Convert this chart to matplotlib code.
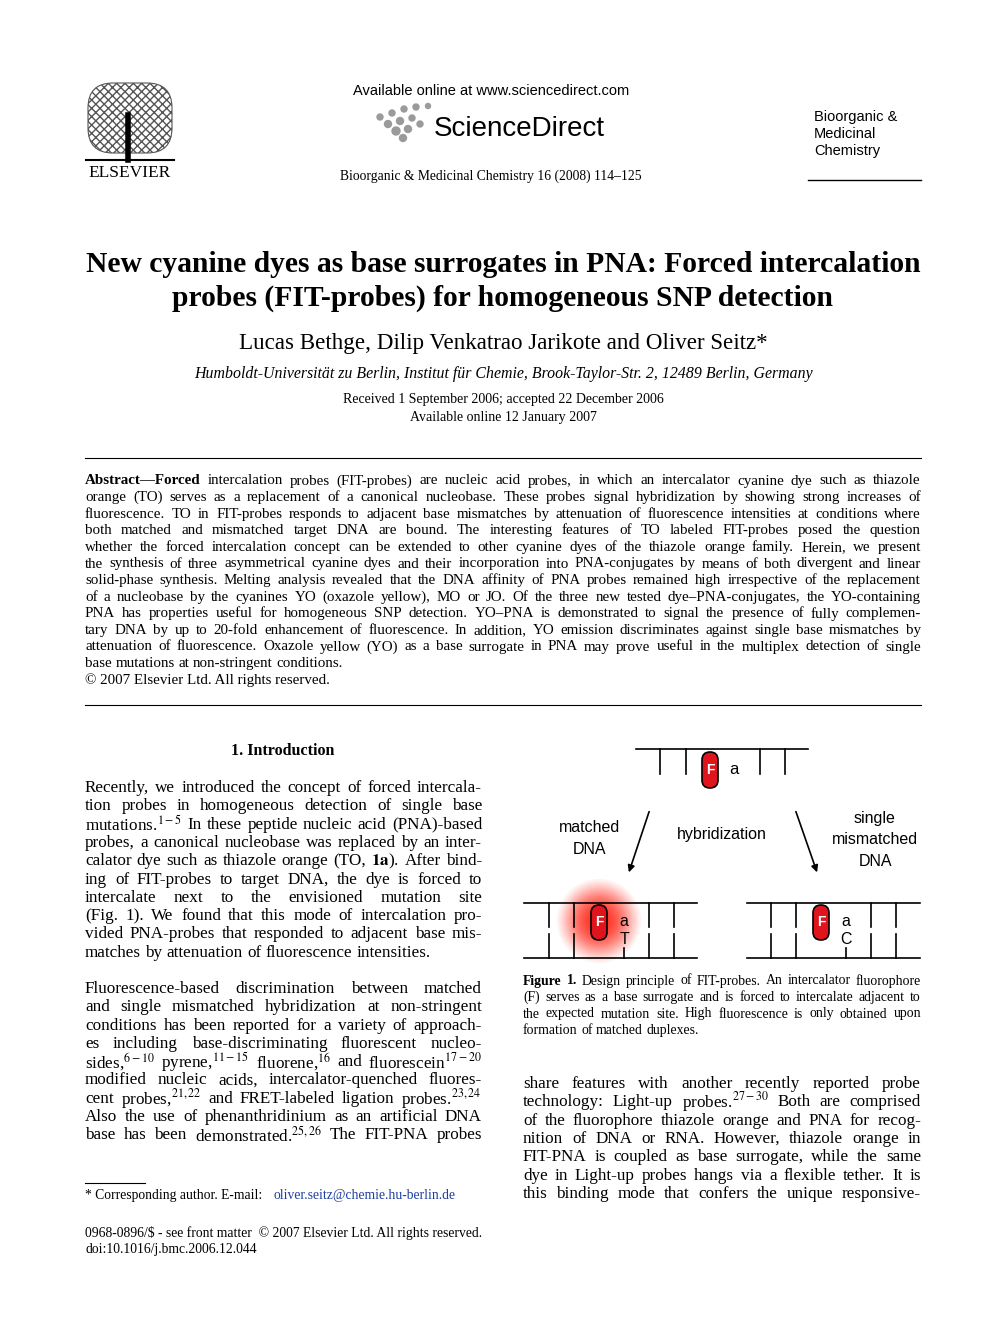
import matplotlib
matplotlib.use("Agg")
import matplotlib.pyplot as plt
from matplotlib.patches import FancyBboxPatch, Circle
import numpy as np

plt.rcParams["mathtext.fontset"] = "stix"
SERIF = "Liberation Serif"
SANS = "Liberation Sans"

title_lines = ["New cyanine dyes as base surrogates in PNA: Forced intercalation",
               "probes (FIT-probes) for homogeneous SNP detection"]
authors = "Lucas Bethge, Dilip Venkatrao Jarikote and Oliver Seitz*"
affil = "Humboldt-Universität zu Berlin, Institut für Chemie, Brook-Taylor-Str. 2, 12489 Berlin, Germany"
dates = ["Received 1 September 2006; accepted 22 December 2006", "Available online 12 January 2007"]

abstract = [
 "Abstract—Forced intercalation probes (FIT-probes) are nucleic acid probes, in which an intercalator cyanine dye such as thiazole",
 "orange (TO) serves as a replacement of a canonical nucleobase. These probes signal hybridization by showing strong increases of",
 "fluorescence. TO in FIT-probes responds to adjacent base mismatches by attenuation of fluorescence intensities at conditions where",
 "both matched and mismatched target DNA are bound. The interesting features of TO labeled FIT-probes posed the question",
 "whether the forced intercalation concept can be extended to other cyanine dyes of the thiazole orange family. Herein, we present",
 "the synthesis of three asymmetrical cyanine dyes and their incorporation into PNA-conjugates by means of both divergent and linear",
 "solid-phase synthesis. Melting analysis revealed that the DNA affinity of PNA probes remained high irrespective of the replacement",
 "of a nucleobase by the cyanines YO (oxazole yellow), MO or JO. Of the three new tested dye–PNA-conjugates, the YO-containing",
 "PNA has properties useful for homogeneous SNP detection. YO–PNA is demonstrated to signal the presence of fully complemen-",
 "tary DNA by up to 20-fold enhancement of fluorescence. In addition, YO emission discriminates against single base mismatches by",
 "attenuation of fluorescence. Oxazole yellow (YO) as a base surrogate in PNA may prove useful in the multiplex detection of single",
 "base mutations at non-stringent conditions.",
 "© 2007 Elsevier Ltd. All rights reserved."]

para1 = [
 "Recently, we introduced the concept of forced intercala-",
 "tion probes in homogeneous detection of single base",
 "mutations.$^{1-5}$ In these peptide nucleic acid (PNA)-based",
 "probes, a canonical nucleobase was replaced by an inter-",
 "calator dye such as thiazole orange (TO, $\\mathbf{1a}$). After bind-",
 "ing of FIT-probes to target DNA, the dye is forced to",
 "intercalate next to the envisioned mutation site",
 "(Fig. 1). We found that this mode of intercalation pro-",
 "vided PNA-probes that responded to adjacent base mis-",
 "matches by attenuation of fluorescence intensities."]
para2 = [
 "Fluorescence-based discrimination between matched",
 "and single mismatched hybridization at non-stringent",
 "conditions has been reported for a variety of approach-",
 "es including base-discriminating fluorescent nucleo-",
 "sides,$^{6-10}$ pyrene,$^{11-15}$ fluorene,$^{16}$ and fluorescein$^{17-20}$",
 "modified nucleic acids, intercalator-quenched fluores-",
 "cent probes,$^{21,22}$ and FRET-labeled ligation probes.$^{23,24}$",
 "Also the use of phenanthridinium as an artificial DNA",
 "base has been demonstrated.$^{25,26}$ The FIT-PNA probes"]
para3 = [
 "share features with another recently reported probe",
 "technology: Light-up probes.$^{27-30}$ Both are comprised",
 "of the fluorophore thiazole orange and PNA for recog-",
 "nition of DNA or RNA. However, thiazole orange in",
 "FIT-PNA is coupled as base surrogate, while the same",
 "dye in Light-up probes hangs via a flexible tether. It is",
 "this binding mode that confers the unique responsive-"]
caption = [
 "Figure 1.  Design principle of FIT-probes. An intercalator fluorophore",
 "(F) serves as a base surrogate and is forced to intercalate adjacent to",
 "the expected mutation site. High fluorescence is only obtained upon",
 "formation of matched duplexes."]

fig = plt.figure(figsize=(9.92, 13.23), dpi=100)
ax = fig.add_axes([0, 0, 1, 1])
ax.set_xlim(0, 992); ax.set_ylim(1323, 0); ax.axis("off")
R = fig.canvas.get_renderer()

def T(x, y, s, size, ha="left", family=SERIF, **kw):
    return ax.text(x, y, s, fontsize=size, ha=ha, va="center", family=family, **kw)

def justify(line, x0, x1, y, size, just=True, nbold=0):
    words = line.split()
    ts = [T(0, y, w, size, weight=("bold" if i < nbold else "normal")) for i, w in enumerate(words)]
    ws = [t.get_window_extent(R).width for t in ts]
    sp = size * 100 / 72 * 0.25
    gap = (x1 - x0 - sum(ws)) / (len(words) - 1) if (just and len(words) > 1) else sp
    x = x0
    for t, w in zip(ts, ws):
        t.set_x(x); x += w + gap

def block(lines, x0, x1, y0, dy, size, lastjust=False, nbold0=0):
    for i, l in enumerate(lines):
        justify(l, x0, x1, y0 + i * dy, size, just=(i < len(lines) - 1 or lastjust),
                nbold=(nbold0 if i == 0 else 0))

# header
T(491, 91, "Available online at www.sciencedirect.com", 10.5, ha="center", family=SANS)
T(519, 129, "ScienceDirect", 20, ha="center", family=SANS)
for (dx, dy, r) in [(380,117,3),(392,113,3),(404,109,3),(416,107,3),(428,106,2.5),(388,124,3.5),(400,121,3.5),(412,118,3),(396,131,4),(408,129,3.5),(403,138,3.5),(420,124,3)]:
    ax.add_patch(Circle((dx, dy), r, color="#9a9a9a"))
T(491, 176, "Bioorganic & Medicinal Chemistry 16 (2008) 114–125", 9.8, ha="center")
for i, s in enumerate(["Bioorganic &", "Medicinal", "Chemistry"]):
    T(814, 117 + 17 * i, s, 10.5, family=SANS)
ax.plot([808, 921], [180, 180], color="k", lw=1)
# elsevier logo
ax.add_patch(FancyBboxPatch((88, 83), 84, 70, boxstyle="round,pad=0,rounding_size=25", fc="none", ec="#555", lw=0.8, hatch="xxxx"))
ax.plot([128, 128], [115, 160], color="k", lw=4)
ax.plot([86, 174], [160, 160], color="k", lw=1.5)
T(130, 173, "ELSEVIER", 12.5, ha="center")

# title
T(503, 265, title_lines[0], 21.3, ha="center", weight="bold")
T(503, 298, title_lines[1], 21.3, ha="center", weight="bold")
T(503, 343, authors, 16.6, ha="center")
T(503, 374, affil, 11.4, ha="center", style="italic")
T(503, 400, dates[0], 10, ha="center")
T(503, 417, dates[1], 10, ha="center")
ax.plot([85, 921], [458, 458], color="k", lw=0.8)
ax.plot([85, 921], [705, 705], color="k", lw=0.8)

block(abstract[:12], 85, 921, 481, 16.6, 10.8, nbold0=1)
T(85, 481 + 12 * 16.6, abstract[12], 10.8)

T(283, 751, "1. Introduction", 11.5, ha="center", weight="bold")
block(para1, 85, 482, 788, 18.3, 12.3)
block(para2, 85, 482, 989, 18.3, 12.3, lastjust=True)
block(para3, 523, 921, 1084, 18.3, 12.3, lastjust=True)
block(caption, 523, 921, 981, 16.5, 9.9, nbold0=2)

ax.plot([85, 145], [1183, 1183], color="k", lw=0.8)
T(85, 1196, "* Corresponding author. E-mail:", 9.8)
T(274, 1196, "oliver.seitz@chemie.hu-berlin.de", 9.8, color="#1f3fa0")
T(85, 1233, "0968-0896/$ - see front matter  © 2007 Elsevier Ltd. All rights reserved.", 9.8)
T(85, 1250, "doi:10.1016/j.bmc.2006.12.044", 9.8)

# diagram
def capsule(x, y0, y1):
    ax.add_patch(FancyBboxPatch((x - 8, y0), 16, y1 - y0, boxstyle="round,pad=0,rounding_size=8", fc="#e0141c", ec="k", lw=1.2, zorder=5))
    T(x, (y0 + y1) / 2, "F", 10, ha="center", family=SANS, color="white", weight="bold", zorder=6)

ax.plot([636, 808], [749, 749], color="k", lw=1.2)
for x in [660, 686, 760, 785]:
    ax.plot([x, x], [749, 774], color="k", lw=1.2)
capsule(710, 752, 788)
T(734, 769, "a", 12, ha="center", family=SANS)
ax.annotate("", xy=(628, 875), xytext=(650, 809), arrowprops=dict(arrowstyle="-|>", lw=1.2, color="k"))
ax.annotate("", xy=(818, 875), xytext=(795, 809), arrowprops=dict(arrowstyle="-|>", lw=1.2, color="k"))
T(590, 828, "matched", 11.5, ha="center", family=SANS)
T(590, 849, "DNA", 11.5, ha="center", family=SANS)
T(722, 834, "hybridization", 11.5, ha="center", family=SANS)
for i, s in enumerate(["single", "mismatched", "DNA"]):
    T(875, 819 + 21 * i, s, 11.5, ha="center", family=SANS)

for r, a in zip(np.linspace(42, 6, 18), np.linspace(0.05, 0.2, 18)):
    ax.add_patch(Circle((599, 921), r, color="#ff2010", alpha=a, lw=0))
for (xl, xs, base, lab) in [(524, [549, 574, 649, 674], 599, "T"), (747, [771, 796, 871, 896], 821, "C")]:
    ax.plot([xl, xl + 173], [903, 903], color="k", lw=1.2)
    ax.plot([xl, xl + 173], [958, 958], color="k", lw=1.2)
    for x in xs:
        ax.plot([x, x], [903, 927], color="k", lw=1.2)
        ax.plot([x, x], [934, 958], color="k", lw=1.2)
    ax.plot([base + 25, base + 25], [948, 958], color="k", lw=1.2)
    capsule(base, 905, 940)
    T(base + 25, 921, "a", 11.5, ha="center", family=SANS)
    T(base + 25, 939, lab, 11.5, ha="center", family=SANS)

fig.savefig("out.png", dpi=100)
